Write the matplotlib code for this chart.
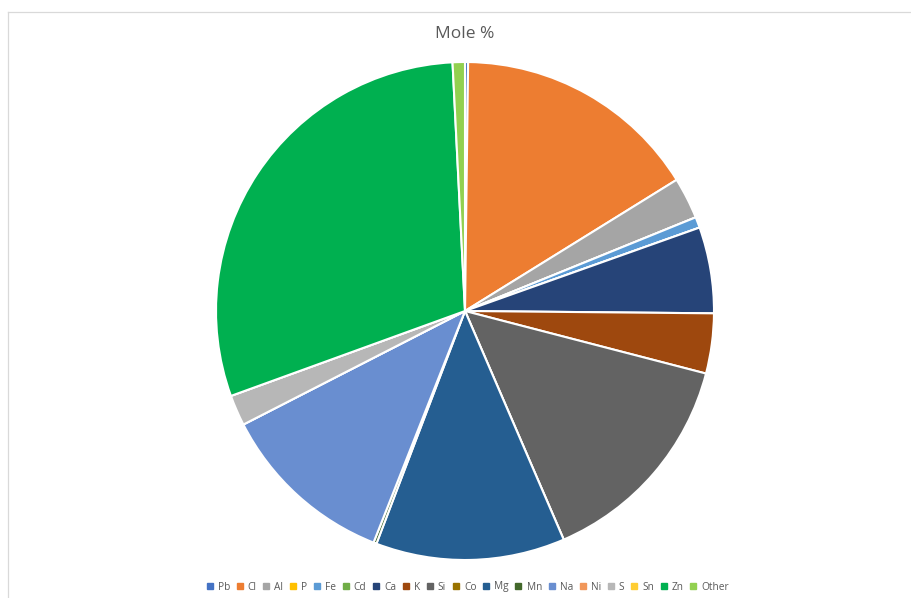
import matplotlib.pyplot as plt
from matplotlib.lines import Line2D

# element composition, mole percent
elements = ['Pb', 'Cl', 'Al', 'P', 'Fe', 'Cd', 'Ca', 'K', 'Si', 'Co',
            'Mg', 'Mn', 'Na', 'Ni', 'S', 'Sn', 'Zn', 'Other']
mole_pct = [0.2, 16.0, 2.7, 0.0, 0.7, 0.0, 5.6, 3.9, 14.5, 0.0,
            12.3, 0.2, 11.5, 0.0, 2.0, 0.0, 29.8, 0.8]
colors = ['#4472C4', '#ED7D31', '#A5A5A5', '#FFC000', '#5B9BD5', '#70AD47',
          '#264478', '#9E480E', '#636363', '#997300', '#255E91', '#43682B',
          '#698ED0', '#F1975A', '#B7B7B7', '#FFCD33', '#00B050', '#92D050']

W, H = 911, 598
fig = plt.figure(figsize=(W / 100, H / 100), dpi=100)

# chart-area frame (top and left edges visible)
fig.add_artist(Line2D([8 / W, 8 / W], [0, 1 - 12 / H], color='#d9d9d9', lw=0.9))
fig.add_artist(Line2D([8 / W, 1], [1 - 12 / H, 1 - 12 / H], color='#d9d9d9', lw=0.9))

cx, cy, r = 465, 311, 250
ax = fig.add_axes([(cx - r) / W, (H - cy - r) / H, 2 * r / W, 2 * r / H])
ax.pie(mole_pct, colors=colors, startangle=90, counterclock=False, radius=0.996,
       wedgeprops=dict(edgecolor='white', linewidth=1.5))
ax.set_xlim(-1, 1)
ax.set_ylim(-1, 1)
ax.set_aspect('equal')
ax.axis('off')

fig.text(cx / W, 1 - 34 / H, 'Mole %', ha='center', va='center',
         fontsize=12.5, color='#595959', family='Open Sans')

handles = [Line2D([], [], marker='s', ls='', markersize=4, color=c) for c in colors]
fig.legend(handles, elements, loc='center', bbox_to_anchor=(468 / W, 1 - 587 / H),
           ncol=len(elements), frameon=False, handlelength=0.5,
           handletextpad=0.55, columnspacing=0.7, labelcolor='#595959',
           prop=dict(family='Open Sans', size=7.3))

fig.savefig('out.png', dpi=100)
